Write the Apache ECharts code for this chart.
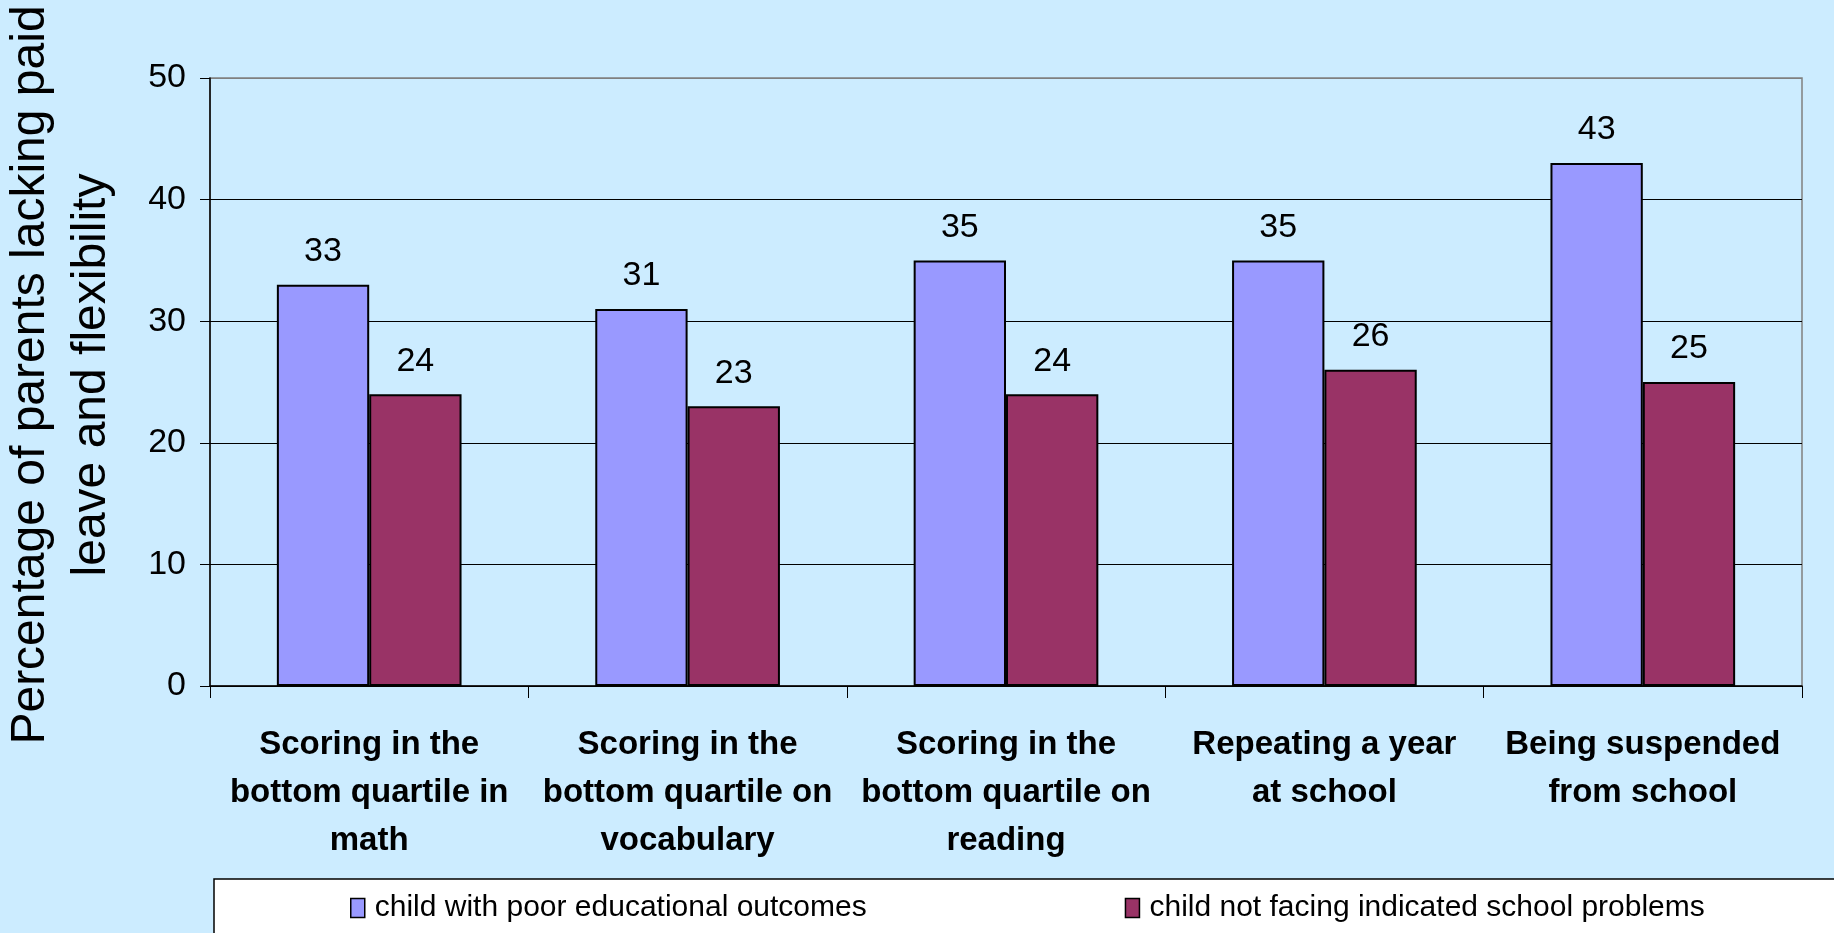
<!DOCTYPE html>
<html>
<head>
<meta charset="utf-8">
<script src="https://cdn.jsdelivr.net/npm/echarts@6/dist/echarts.min.js"></script>
<style>
  html, body { margin: 0; padding: 0; background: #CCECFF; }
  #main { width: 1834px; height: 933px; }
</style>
</head>
<body>
<div id="main"></div>
<script>
// categories and values
var categories = [
  'Scoring in the\nbottom quartile in\nmath',
  'Scoring in the\nbottom quartile on\nvocabulary',
  'Scoring in the\nbottom quartile on\nreading',
  'Repeating a year\nat school',
  'Being suspended\nfrom school'
];
var poorOutcomes = [33, 31, 35, 35, 43];
var noProblems = [24, 23, 24, 26, 25];
var seriesNames = ['child with poor educational outcomes', 'child not facing indicated school problems'];
var yTicks = [0, 10, 20, 30, 40, 50];

var font = "'Liberation Sans', Arial, sans-serif";
var myChart = echarts.init(document.getElementById('main'));

myChart.setOption({
  backgroundColor: '#CCECFF',
  animation: false,
  textStyle: { fontFamily: font, color: '#000' },
  grid: {
    left: 210, right: 32, top: 78, bottom: 247,
    outerBoundsMode: 'none',
    containLabel: false,
    show: true, borderColor: '#808080', borderWidth: 1.5
  },
  // legend box
  graphic: [
    {
      type: 'rect',
      shape: { x: 214, y: 879, width: 1640, height: 70 },
      style: { fill: '#fff', stroke: '#000', lineWidth: 1.5 },
      z: 0
    }
  ],
  legend: {
    data: seriesNames,
    left: 345,
    top: 888,
    itemGap: 258,
    itemWidth: 14,
    itemHeight: 19,
    icon: 'rect',
    itemStyle: { borderColor: '#000', borderWidth: 1.5 },
    textStyle: { fontSize: 30, fontFamily: font, color: '#000', padding: [0, 0, 0, 5] },
    z: 5
  },
  xAxis: {
    type: 'category',
    data: categories,
    axisLine: { lineStyle: { color: '#000', width: 1.5 } },
    axisTick: { show: true, length: 12, lineStyle: { color: '#000' } },
    axisLabel: {
      interval: 0,
      margin: 35,
      fontSize: 33,
      fontWeight: 'bold',
      lineHeight: 48,
      color: '#000',
      fontFamily: font
    }
  },
  yAxis: {
    type: 'value',
    min: yTicks[0],
    max: yTicks[yTicks.length - 1],
    interval: 10,
    name: 'Percentage of parents lacking paid\nleave and flexibility',
    nameLocation: 'middle',
    nameGap: 88,
    nameTextStyle: { fontSize: 48, lineHeight: 61, color: '#000', fontFamily: font, padding: [0, 0, 0, 14] },
    axisLine: { show: true, lineStyle: { color: '#000', width: 1.5 } },
    axisTick: { show: true, length: 10, lineStyle: { color: '#000' } },
    axisLabel: { fontSize: 34, margin: 24, color: '#000', fontFamily: font },
    splitLine: {
      show: true,
      lineStyle: { color: ['#000', '#000', '#000', '#000', '#000', '#808080'], width: 1 }
    }
  },
  series: [
    {
      name: seriesNames[0],
      type: 'bar',
      data: poorOutcomes,
      barGap: '0%',
      barCategoryGap: '42%',
      itemStyle: { color: '#9999FF', borderColor: '#000', borderWidth: 2 },
      label: { show: true, position: 'top', distance: 16, fontSize: 34, color: '#000', fontFamily: font }
    },
    {
      name: seriesNames[1],
      type: 'bar',
      data: noProblems,
      barGap: '0%',
      barCategoryGap: '42%',
      itemStyle: { color: '#993366', borderColor: '#000', borderWidth: 2 },
      label: { show: true, position: 'top', distance: 16, fontSize: 34, color: '#000', fontFamily: font }
    }
  ]
});
</script>
</body>
</html>
